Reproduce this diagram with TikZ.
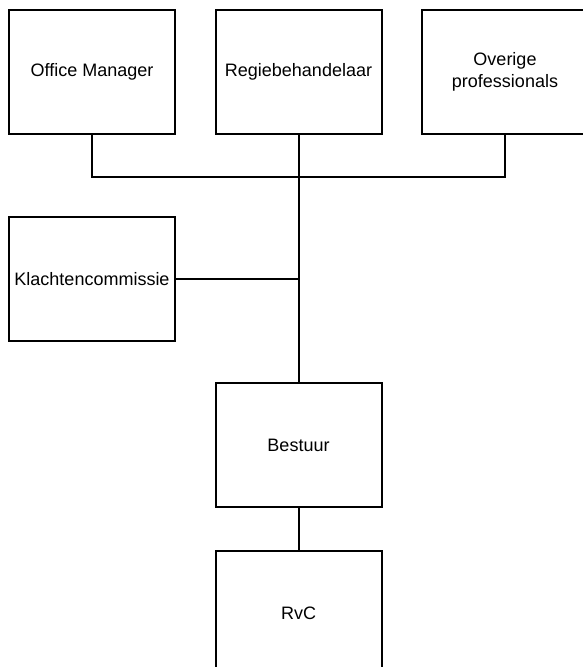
\documentclass[tikz,border=0pt]{standalone}
\usepackage{fontspec}
\setmainfont{Liberation Sans}
\usepackage{tikz}
\usetikzlibrary{calc}

\begin{document}
\begin{tikzpicture}[x=0.75pt, y=-0.75pt, line width=1.5pt,
    box/.style={draw, rectangle, inner sep=0pt, minimum width=124.5pt,
        minimum height=93pt, align=center, font=\fontsize{13.5pt}{16.5pt}\selectfont}]
    % Cadre
    \useasboundingbox (0,0) rectangle (582,667);

    % Boites du haut
    \node[box] (om) at (92,72) {Office Manager};
    \node[box] (rb) at (298.5,72) {Regiebehandelaar};
    \node[box] (op) at (505,72) {Overige\\professionals};

    % Klachtencommissie
    \node[box] (kc) at (92,279) {Klachtencommissie};

    % Bestuur et RvC
    \node[box] (bs) at (298.5,445) {Bestuur};
    \node[box] (rvc) at (298.5,613) {RvC};

    % Liaisons
    \coordinate (bus) at (298.5,177);
    \draw (om.south) |- (bus) -| (op.south);
    \draw (rb.south) -- (bs.north);
    \draw (kc.east) -- (kc.east -| rb.south);
    \draw (bs.south) -- (rvc.north);
\end{tikzpicture}
\end{document}
